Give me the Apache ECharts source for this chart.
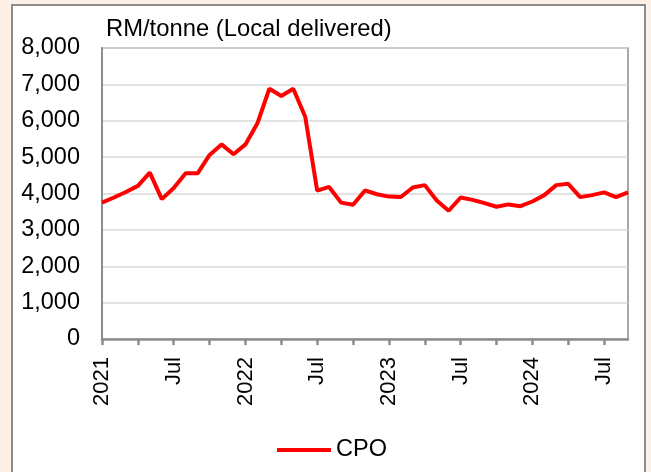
<!DOCTYPE html>
<html>
<head>
<meta charset="utf-8">
<script src="https://cdn.jsdelivr.net/npm/echarts@6/dist/echarts.min.js"></script>
<style>
  html, body { margin: 0; padding: 0; background: #FDF0E6; overflow: hidden; }
  #panel { position: absolute; left: 11px; top: 4px; width: 631px; height: 480px;
           background: #fff; border: 2px solid #8C8C8C; }
  #eChartLine { position: absolute; left: 0; top: 0; width: 651px; height: 472px; }
</style>
</head>
<body>
<div id="panel"></div>
<div id="eChartLine"></div>
<script>
// monthly, Jan 2021 .. Sep 2024
var months = [];
for (var y = 2021; y <= 2024; y++) {
    for (var m = 1; m <= 12; m++) {
        if (y === 2024 && m > 9) break;
        months.push(y + '-' + (m < 10 ? '0' + m : m));
    }
}

var cpo = [3750, 3890, 4040, 4210, 4575, 3845, 4150, 4555, 4555, 5060, 5350, 5080,
           5350, 5930, 6880, 6680, 6880, 6110, 4080, 4180, 3750, 3690, 4085, 3980,
           3915, 3905, 4165, 4230, 3810, 3525, 3890, 3825, 3735, 3635, 3700, 3650,
           3780, 3955, 4230, 4265, 3900, 3955, 4030, 3900, 4030];

var yTicks = [0, 1000, 2000, 3000, 4000, 5000, 6000, 7000, 8000];

var myChart = echarts.init(document.getElementById('eChartLine'));

option = {
    backgroundColor: 'transparent',
    textStyle: { fontFamily: 'Liberation Sans', color: '#000' },
    title: {
        text: 'RM/tonne (Local delivered)',
        left: 101,
        top: 12,
        textStyle: { fontSize: 23.8, fontWeight: 'normal', color: '#000', fontFamily: 'Liberation Sans' }
    },
    legend: {
        data: ['CPO'],
        left: 272,
        top: 433,
        itemWidth: 54,
        itemHeight: 4,
        itemGap: 6,
        icon: 'rect',
        textStyle: { fontSize: 23.5, color: '#000', fontFamily: 'Liberation Sans' }
    },
    grid: {
        left: 102,
        right: 23,
        top: 48,
        bottom: 133,
        show: true,
        borderColor: '#8C8C8C',
        borderWidth: 1.5
    },
    xAxis: {
        type: 'category',
        data: months,
        boundaryGap: false,
        axisLine: { lineStyle: { color: '#8C8C8C', width: 2.5 } },
        axisTick: {
            interval: function (i) { return i % 3 === 0; },
            length: 6,
            lineStyle: { color: '#8C8C8C', width: 2.5 }
        },
        axisLabel: {
            interval: function (i) { return i % 6 === 0; },
            rotate: 90,
            margin: 18,
            fontSize: 22,
            color: '#000',
            fontFamily: 'Liberation Sans',
            formatter: function (v) {
                var p = v.split('-');
                return p[1] === '01' ? p[0] : 'Jul';
            }
        },
        splitLine: { show: false }
    },
    yAxis: {
        type: 'value',
        min: yTicks[0],
        max: yTicks[yTicks.length - 1],
        interval: 1000,
        axisLine: { show: true, lineStyle: { color: '#8C8C8C', width: 2 } },
        axisTick: { show: false },
        axisLabel: {
            margin: 22,
            fontSize: 23.5,
            color: '#000',
            fontFamily: 'Liberation Sans',
            formatter: function (v) { return v.toLocaleString('en-US'); }
        },
        splitLine: { lineStyle: { color: '#D9D9D9', width: 1.5 } }
    },
    series: [
        {
            name: 'CPO',
            type: 'line',
            data: cpo,
            symbol: 'none',
            lineStyle: { color: '#FF0000', width: 4 },
            itemStyle: { color: '#FF0000' }
        }
    ]
};

myChart.setOption(option);
</script>
</body>
</html>
